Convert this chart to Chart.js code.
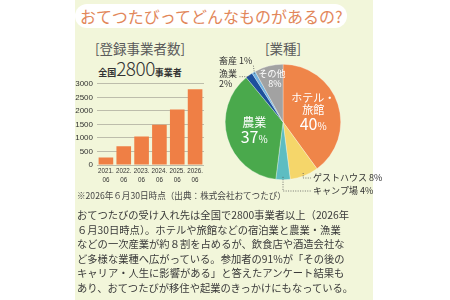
<!DOCTYPE html>
<html lang="ja">
<head>
<meta charset="utf-8">
<script src="https://cdn.jsdelivr.net/npm/chart.js@4.4.1/dist/chart.umd.min.js"></script>
<style>
  html, body { margin: 0; padding: 0; width: 450px; height: 300px; overflow: hidden; background: #fff;
    font-family: "Noto Sans CJK JP", sans-serif; }
  #panel { position: absolute; left: 75px; top: 0; width: 298px; height: 300px; background: #f2f6da; }
  #heading { position: absolute; left: 75px; top: 4px; height: 24px; padding: 0 5px 0 5px; background: #fff;
    border-radius: 12px; color: #e2875a; font-size: 16px; line-height: 24px; white-space: nowrap; }
  .sub { position: absolute; color: #5a5a5a; font-size: 13.5px; line-height: 16px; white-space: nowrap; transform: translateX(-50%); }
  #total { position: absolute; left: 140px; top: 58px; transform: translateX(-50%); white-space: nowrap; color: #333; line-height: 20px; }
  #total b { font-size: 9px; font-weight: 700; }
  #total span { font-size: 19px; font-weight: 300; letter-spacing: -0.5px; }
  #note { position: absolute; left: 77px; top: 189px; font-size: 8.6px; line-height: 12px; color: #444; white-space: nowrap; }
  #body { position: absolute; left: 77px; top: 208px; font-size: 10.3px; line-height: 14.6px; color: #3a3a3a; white-space: nowrap; }
  canvas { position: absolute; }
  #barCanvas { left: 70px; top: 75px; }
  #pieCanvas { left: 193px; top: 47px; }
</style>
</head>
<body>
<div id="panel"></div>
<div id="heading">おてつたびってどんなものがあるの?</div>
<div class="sub" style="left:140px; top:40px;">[登録事業者数]</div>
<div class="sub" style="left:283px; top:40px;">[業種]</div>
<div id="total"><b>全国</b><span>2800</span><b>事業者</b></div>
<canvas id="barCanvas" width="140" height="115"></canvas>
<canvas id="pieCanvas" width="190" height="150"></canvas>
<div id="note">※2026年６月30日時点（出典：株式会社おてつたび）</div>
<div id="body">おてつたびの受け入れ先は全国で2800事業者以上（2026年<br>６月30日時点）。ホテルや旅館などの宿泊業と農業・漁業<br>などの一次産業が約８割を占めるが、飲食店や酒造会社な<br>ど多様な業種へ広がっている。参加者の91%が「その後の<br>キャリア・人生に影響がある」と答えたアンケート結果も<br>あり、おてつたびが移住や起業のきっかけにもなっている。</div>
<script>
// 登録事業者数
const periods = ['2021.06', '2022.06', '2023.06', '2024.06', '2025.06', '2026.06'];
const operators = [280, 690, 1050, 1490, 2050, 2800];
const yTicks = [0, 500, 1000, 1500, 2000, 2500, 3000];

// 業種
const industries = ['ホテル・旅館', 'ゲストハウス', 'キャンプ場', '農業', '漁業', '畜産', 'その他'];
const industryShares = [40, 8, 4, 37, 2, 1, 8];

const jpFont = '"Noto Sans CJK JP", sans-serif';
const tickFont = '"Liberation Sans", sans-serif';

const industryColors = ['#ef8549', '#f5d66a', '#5dbdc2', '#4aa94c', '#1d4f9c', '#72b3e0', '#a2a2a2'];

// ラベルの描き方（inside = 扇形の中、outside = 引き出し線付き）
const labelStyles = [
  { type: 'inside', r: 0.55, lines: ['ホテル・', '旅館'], size: 11, big: true },
  { type: 'outside', anchorR: 0.95, text: 'ゲストハウス', dx: 30, dy: 56, elbow: 'down' },
  { type: 'outside', anchorR: 0.95, text: 'キャンプ場', dx: 30, dy: 69, elbow: 'down' },
  { type: 'inside', r: 0.52, lines: ['農業'], size: 12, big: true },
  { type: 'outside', anchorR: 0.97, text: '漁業', dx: -64, dy: -48, elbow: 'left', twoLine: true },
  { type: 'outside', anchorR: 0.97, text: '畜産', dx: -64, dy: -61, elbow: 'diag' },
  { type: 'inside', r: 0.77, lines: ['その他'], size: 9, big: false }
];

// 細長いラベル（x軸）を横に詰めて描く
const narrowTicksPlugin = {
  id: 'narrowTicks',
  afterDraw(chart) {
    const ctx = chart.ctx;
    const xs = chart.scales.x;
    ctx.save();
    ctx.fillStyle = '#333';
    ctx.font = `8px ${tickFont}`;
    ctx.textAlign = 'center';
    ctx.textBaseline = 'top';
    periods.forEach((p, i) => {
      const [y, m] = p.split('.');
      const x = xs.getPixelForValue(i);
      ctx.save();
      ctx.translate(x, xs.top + 2);
      ctx.scale(0.78, 1);
      ctx.fillText(y + '.', 0, 0);
      ctx.fillText(m, 0, 8.5);
      ctx.restore();
    });
    ctx.restore();
  }
};

// 棒グラフ
function createBarChart(canvasId) {
  const canvas = document.getElementById(canvasId);
  return new Chart(canvas, {
    type: 'bar',
    data: {
      labels: periods,
      datasets: [{
        data: operators,
        backgroundColor: '#ef7f45',
        barPercentage: 0.82,
        categoryPercentage: 1
      }]
    },
    options: {
      responsive: false,
      animation: false,
      layout: { padding: { top: 4, right: 6, left: 0, bottom: 0 } },
      plugins: { legend: { display: false }, tooltip: { enabled: false } },
      scales: {
        x: {
          grid: { display: false },
          border: { display: false },
          ticks: { display: false },
          afterFit: s => { s.height = 25; }
        },
        y: {
          min: yTicks[0],
          max: yTicks[yTicks.length - 1],
          grid: { color: '#aeae9e', lineWidth: 0.8, drawTicks: false },
          border: { display: false },
          ticks: { stepSize: yTicks[1] - yTicks[0], color: '#333', padding: 4,
            font: { size: 8, family: tickFont }, callback: v => String(v) },
          afterFit: s => { s.width = 27; }
        }
      }
    },
    plugins: [narrowTicksPlugin]
  });
}

// 円グラフのラベル
const pieLabelPlugin = {
  id: 'pieLabels',
  afterDatasetsDraw(chart) {
    const ctx = chart.ctx;
    const arcs = chart.getDatasetMeta(0).data;
    ctx.save();
    arcs.forEach((arc, i) => {
      const st = labelStyles[i];
      const p = arc.getProps(['x', 'y', 'startAngle', 'endAngle', 'outerRadius'], true);
      const mid = (p.startAngle + p.endAngle) / 2;
      const pct = industryShares[i] + '%';
      if (st.type === 'inside') {
        const cx = p.x + Math.cos(mid) * p.outerRadius * st.r;
        const cy = p.y + Math.sin(mid) * p.outerRadius * st.r;
        ctx.fillStyle = '#fff';
        ctx.textAlign = 'center';
        ctx.textBaseline = 'middle';
        const lh = st.size + 1;
        const pctH = st.big ? 16 : st.size + 1;
        const total = st.lines.length * lh + pctH;
        let y = cy - total / 2 + lh / 2;
        ctx.font = `${st.size}px ${jpFont}`;
        st.lines.forEach(l => { ctx.fillText(l, cx, y); y += lh; });
        y += (pctH - lh) / 2;
        if (st.big) {
          const num = String(industryShares[i]);
          ctx.font = `16px ${jpFont}`;
          const wn = ctx.measureText(num).width;
          ctx.font = `10px ${jpFont}`;
          const wp = ctx.measureText('%').width;
          const x0 = cx - (wn + wp) / 2;
          ctx.textAlign = 'left';
          ctx.font = `16px ${jpFont}`;
          ctx.fillText(num, x0, y);
          ctx.font = `10px ${jpFont}`;
          ctx.fillText('%', x0 + wn, y + 2);
        } else {
          ctx.font = `${st.size}px ${jpFont}`;
          ctx.fillText(pct, cx + 3, y);
        }
      } else {
        const ax = p.x + Math.cos(mid) * p.outerRadius * st.anchorR;
        const ay = p.y + Math.sin(mid) * p.outerRadius * st.anchorR;
        const lx = p.x + st.dx;
        const ly = p.y + st.dy;
        ctx.strokeStyle = '#555';
        ctx.lineWidth = 0.8;
        ctx.setLineDash([1, 1.4]);
        ctx.beginPath();
        ctx.moveTo(ax, ay);
        ctx.font = `9px ${jpFont}`;
        if (st.elbow === 'down') {
          ctx.lineTo(ax, ly);
          ctx.lineTo(lx - 2, ly);
        } else if (st.elbow === 'left') {
          ctx.lineTo(lx + ctx.measureText(st.text).width + 2, ay);
        } else {
          ctx.lineTo(lx + ctx.measureText(st.text + ' ' + pct).width + 1, ly + 4);
        }
        ctx.stroke();
        ctx.setLineDash([]);
        ctx.fillStyle = '#333';
        ctx.textAlign = 'left';
        ctx.textBaseline = 'middle';
        if (st.twoLine) {
          ctx.fillText(st.text, lx, ly);
          ctx.fillText(pct, lx, ly + 10);
        } else {
          ctx.fillText(st.text + ' ' + pct, lx, ly);
        }
      }
    });
    ctx.restore();
  }
};

// 円グラフ
function createPieChart(canvasId) {
  const canvas = document.getElementById(canvasId);
  return new Chart(canvas, {
    type: 'pie',
    data: {
      labels: industries,
      datasets: [{
        data: industryShares,
        backgroundColor: industryColors,
        borderColor: 'rgba(255,255,255,0.6)',
        borderWidth: 0.5
      }]
    },
    options: {
      responsive: false,
      animation: false,
      layout: { padding: { left: 32, right: 42, top: 17, bottom: 17 } },
      plugins: { legend: { display: false }, tooltip: { enabled: false } }
    },
    plugins: [pieLabelPlugin]
  });
}

createBarChart('barCanvas');
createPieChart('pieCanvas');
</script>
</body>
</html>
